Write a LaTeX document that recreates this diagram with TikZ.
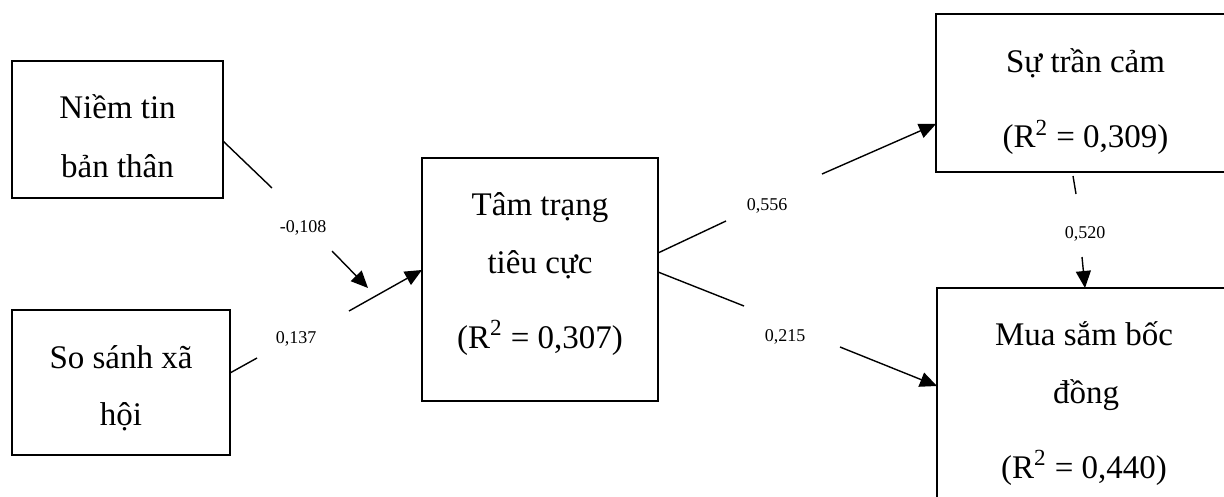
\documentclass[tikz,border=0pt]{standalone}
\usepackage{fontspec}
\setmainfont{Liberation Serif}
\usetikzlibrary{arrows.meta,calc}
\tikzset{
  box/.style={draw, line width=1pt, inner sep=0pt, outer sep=0pt},
  txt/.style={anchor=base, inner sep=0pt, font=\fontsize{16.5}{20}\selectfont},
  lbl/.style={anchor=base, inner sep=0pt, font=\fontsize{9}{11}\selectfont},
  conn/.style={line width=0.7pt},
  arr/.style={conn, -{Triangle[length=8.5pt,width=7.5pt]}}
}
\begin{document}
\begin{tikzpicture}[x=0.5pt,y=-0.5pt]
\path[use as bounding box] (0,0) rectangle (1224,497);
\clip (0,0) rectangle (1224,497);
\fill[white] (0,0) rectangle (1224,497);

% boxes
\node[box, minimum width=105.5pt, minimum height=68.5pt] (b1) at (117.5,129.5) {};
\node[box, minimum width=109pt, minimum height=72.5pt] (b2) at (121,382.5) {};
\node[box, minimum width=118pt, minimum height=121.5pt] (b3) at (540,279.5) {};
\node[box, minimum width=170pt, minimum height=79pt] (b4) at (1106,93) {};
\node[box, minimum width=170pt, minimum height=136pt] (b5) at (1107,424) {};

% box texts
\node[txt] (t1a) at (117.5,119) {Niềm tin};
\node[txt] (t1b) at (117.5,177) {bản thân};
\node[txt] (t2a) at (121,368) {So sánh xã};
\node[txt] (t2b) at (121,425) {hội};
\node[txt] (t3a) at (540,215) {Tâm trạng};
\node[txt] (t3b) at (540,273) {tiêu cực};
\node[txt] (t3c) at (540,348) {(R\textsuperscript{2} = 0,307)};
\node[txt] (t4a) at (1085.5,73) {Sự trần cảm};
\node[txt] (t4b) at (1085.5,148) {(R\textsuperscript{2} = 0,309)};
\node[txt] (t5a) at (1084,345) {Mua sắm bốc};
\node[txt] (t5b) at (1086,403) {đồng};
\node[txt] (t5c) at (1084,478) {(R\textsuperscript{2} = 0,440)};

% labels
\node[lbl] (l1) at (303,233) {-0,108};
\node[lbl] (l2) at (296,343) {0,137};
\node[lbl] (l3) at (767,211) {0,556};
\node[lbl] (l4) at (785,341) {0,215};
\node[lbl] (l5) at (1085,238) {0,520};

% gap coordinates
\coordinate (c1a) at (272,188);
\coordinate (c1b) at (332,251);
\coordinate (c1c) at (368,288);
\coordinate (c2a) at (257,358);
\coordinate (c2b) at (349,311);
\coordinate (c3a) at (726,221);
\coordinate (c3b) at (822,174);
\coordinate (c4a) at (744,306);
\coordinate (c4b) at (840,347);
\coordinate (c5a) at (1073,176);
\coordinate (c5b) at (1076,194);
\coordinate (c5c) at (1082,257);
\coordinate (c5d) at (1085,288);

% connectors
\draw[conn] ($(b1.east)+(0,11.5)$) -- (c1a);
\draw[arr] (c1b) -- (c1c);
\draw[conn] ($(b2.east)+(0,-9.5)$) -- (c2a);
\draw[arr] (c2b) -- ($(b3.west)+(0,-9.5)$);
\draw[conn] ($(b3.east)+(0,-26.5)$) -- (c3a);
\draw[arr] (c3b) -- ($(b4.west)+(0,31)$);
\draw[conn] ($(b3.east)+(0,-7.5)$) -- (c4a);
\draw[arr] (c4b) -- ($(b5.west)+(0,-38)$);
\draw[conn] (c5a) -- (c5b);
\draw[arr] (c5c) -- (c5d);
\end{tikzpicture}
\end{document}
